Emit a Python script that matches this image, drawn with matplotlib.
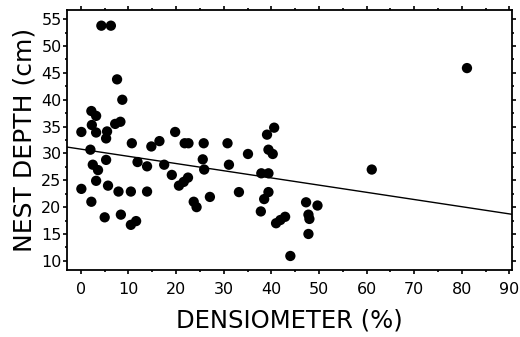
import numpy as np
import matplotlib
matplotlib.use("Agg")
import matplotlib.pyplot as plt
from matplotlib.ticker import MultipleLocator

plt.rcParams['font.family'] = ['DejaVu Sans']

# densiometer reading (%) and nest depth (cm)
densiometer = [4.3, 6.3, 7.6, 8.7, 2.2, 3.2, 2.3, 0.1, 3.2, 7.2, 8.3, 5.5, 5.3,
               19.8, 10.7, 14.8, 16.5, 21.8, 22.6, 25.8, 30.8, 2.0, 5.3, 11.9,
               13.9, 17.5, 2.5, 3.6, 19.1, 20.6, 21.6, 22.5, 25.6, 25.9, 31.1,
               35.1, 40.6, 39.1, 39.4, 40.3, 37.9, 39.4, 3.2, 0.1, 5.7, 7.9,
               10.5, 13.9, 2.2, 5.0, 8.4, 10.5, 11.6, 23.7, 24.3, 27.1, 33.2,
               39.4, 38.5, 37.8, 41.0, 41.9, 42.9, 47.3, 49.7, 47.8, 48.0, 47.8,
               44.0, 61.1, 81.1]
nest_depth = [53.8, 53.8, 43.8, 40.0, 37.9, 37.0, 35.3, 34.0, 33.9, 35.5, 35.9,
              34.1, 32.8, 34.0, 31.9, 31.3, 32.3, 31.9, 31.9, 31.9, 31.9, 30.7,
              28.8, 28.4, 27.6, 27.9, 27.9, 26.9, 26.0, 24.0, 24.7, 25.5, 28.9,
              27.0, 27.9, 29.9, 34.8, 33.5, 30.7, 29.9, 26.3, 26.3, 24.9, 23.4,
              24.0, 22.9, 22.9, 22.9, 21.0, 18.1, 18.6, 16.7, 17.4, 21.0, 20.0,
              21.9, 22.8, 22.8, 21.5, 19.2, 17.0, 17.6, 18.2, 20.9, 20.3, 18.6,
              17.8, 15.0, 10.9, 27.0, 45.9]

# fitted line as drawn
fit_intercept = 30.8
fit_slope = -0.134

fig = plt.figure(figsize=(5.2, 3.37), dpi=100)
ax = fig.add_axes([0.129, 0.199, 0.856, 0.771])

ax.scatter(densiometer, nest_depth, s=55, color="black", edgecolors="none", zorder=3)

xlim = (-2.9, 90.6)
xs = np.array(xlim)
ax.plot(xs, fit_intercept + fit_slope * xs, color="black", linewidth=1.0)

ax.set_xlim(*xlim)
ax.set_ylim(8.3, 56.7)

ax.xaxis.set_major_locator(MultipleLocator(10))
ax.xaxis.set_minor_locator(MultipleLocator(5))
ax.yaxis.set_major_locator(MultipleLocator(5))
ax.yaxis.set_minor_locator(MultipleLocator(2.5))

ax.tick_params(which="both", direction="out", top=True, right=True,
               labelsize=11.5, width=1.2)
ax.tick_params(which="major", length=3)
ax.tick_params(which="minor", length=1.5)
ax.tick_params(axis="x", pad=6)
ax.tick_params(axis="y", pad=1)

for sp in ax.spines.values():
    sp.set_linewidth(1.3)

ax.set_xlabel("DENSIOMETER (%)", fontsize=17.5, labelpad=8)
ax.set_ylabel("NEST DEPTH (cm)", fontsize=18, labelpad=3)

fig.savefig("out.png", dpi=100)
